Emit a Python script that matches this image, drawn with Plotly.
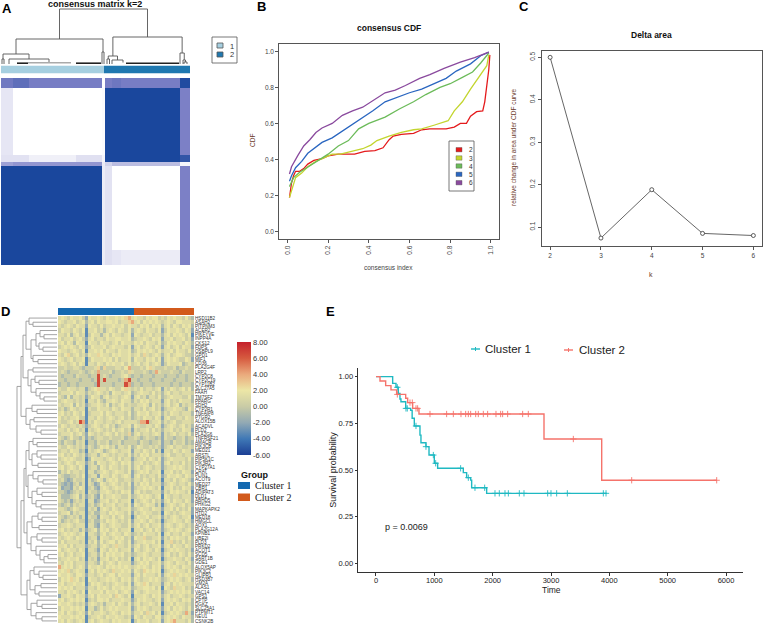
import plotly.graph_objects as go

W, H = 763, 625
FONT = "Liberation Sans"

# ---------- Panel A data
A_X_EDGES = [0, 12, 28, 75, 101, 104, 111, 120, 179, 189]
A_Y_EDGES = [0, 10, 77, 84, 88, 172, 187]
A_MATRIX = [
    [.65, .72, .62, .62, 0, .62, .66, .62, .97],
    [.13, 0, 0, 0, .02, 1, 1, 1, .6],
    [.15, .15, .08, .16, .05, 1, 1, 1, .9],
    [.45, .5, .5, .5, .1, .22, .32, .32, .05],
    [1, 1, 1, 1, .1, .15, 0, 0, .6],
    [1, 1, 1, 1, .1, .16, .13, .1, .6],
]
A_GROUP_EDGES = [0, 103, 189]
A_GROUPS = [[1, 2]]
A_TREE = [55,
          [25,
           [10, [5, 1, 3],
            [5, 8, ("flat", 2, 16, 100, 48)]],
           [12, 101, 103]],
          [27,
           [8, [5, 106, 108.5],
            [4, 111, ("flat", 1.5, 114, 178, 122)]],
           [11, 179, [4, 182, [2, 183, 186]]]]]
A_DENSE_GREY = [(27, 70)]
A_DENSE_BLACK = [(16, 27), (75, 100), (125, 178)]

# ---------- Panel B data
CDF = {
    "2": ([.01, .02, .03, .04, .06, .08, .1, .13, .17, .2, .25, .33, .38, .43, .47, .5, .52, .56, .62, .66, .7, .78, .82, .85, .88, .9, .93, .96, .97, .98, .99, .995],
          [.19, .27, .31, .335, .335, .35, .375, .395, .405, .42, .43, .43, .445, .45, .465, .51, .53, .54, .545, .565, .57, .57, .58, .6, .6, .64, .665, .67, .72, .8, .9, .98]),
    "3": ([.01, .02, .04, .07, .1, .14, .18, .22, .26, .32, .37, .41, .44, .5, .56, .62, .66, .72, .79, .82, .86, .9, .93, .96, .98, .99],
          [.19, .23, .3, .325, .36, .39, .41, .43, .43, .445, .46, .48, .505, .53, .55, .565, .57, .59, .615, .67, .72, .79, .84, .89, .92, .98]),
    "4": ([.01, .03, .06, .1, .15, .2, .25, .3, .35, .4, .48, .55, .62, .68, .75, .8, .86, .91, .95, .99],
          [.25, .3, .33, .36, .395, .43, .475, .505, .57, .6, .635, .68, .72, .76, .8, .82, .855, .885, .935, .99]),
    "5": ([.01, .02, .04, .07, .1, .17, .22, .3, .38, .42, .48, .55, .6, .66, .72, .78, .83, .9, .95, .99],
          [.28, .31, .355, .39, .435, .495, .52, .58, .64, .67, .72, .75, .77, .79, .82, .85, .89, .93, .975, .995]),
    "6": ([.01, .02, .05, .08, .11, .14, .17, .22, .27, .32, .37, .42, .48, .53, .58, .65, .7, .77, .85, .92, .99],
          [.32, .36, .42, .475, .51, .55, .575, .6, .645, .67, .69, .725, .77, .785, .81, .85, .87, .905, .94, .965, .995]),
}
CDF_COLORS = {"2": "#e41a1c", "3": "#c3d52f", "4": "#6cbb5a", "5": "#2a66c0", "6": "#8a4a9e"}

# ---------- Panel C data
DELTA_K = [2, 3, 4, 5, 6]
DELTA_V = [.5, .074, .188, .085, .08]

# ---------- Panel D data
GENES = ["HSD11B2", "ASAH2", "PITPNM3", "ACER2", "PIKFYVE", "INPP4A", "CKS12", "FDPS", "OSBPL9", "GPD1",
         "MIF1", "CD36", "PLA2G4F", "LRP2", "CYP2C8", "CYP2C19", "CYP11B2", "SLC27A5", "FAAH", "TM7SF2",
         "PPARG", "SDH2", "CYP2R1", "TNFAIP8", "PTGR2", "ALOX15B", "ACADVL", "PLD2", "PLA2G6", "TNFRSF21",
         "AMACR", "PIK3CB", "MED21", "ARSTL", "PIP5K1C", "PIK3R2", "CYP27A1", "CRAT", "PLIN1", "ACOT9",
         "MED27", "CBR1", "ADIPAT3", "DLD1", "ABHD5", "PHKG2", "MAPKAPK2", "HTD2", "MED18", "HMGCL",
         "AOX1", "PLA2G12A", "KPNB1", "UBE2I", "PLD3", "PRKD2", "ACOT1", "SCD5", "SART1B", "GDE1",
         "ALOX5AP", "PIK3C2", "GLIPR1", "HSD3B7", "GM2A", "ALAS1", "VAC14", "GPS1", "CPTP", "DGKZ",
         "SLC25A1", "PTPMT1", "NEU1", "CSNK2B"]
LEVELS = [-5, -3.2, -2.0, -0.9, 0.2, 1.2, 1.9, 2.6, 4, 6.5]
HEAT_ROWS = [
    "56546 55642 65565 46556 56785 65546 56645 46565 54643",
    "65455 64563 56465 56656 45578 56465 65654 56546 65554",
    "54565 46552 65546 45565 56465 54656 46563 56465 46563",
    "46554 65461 55645 35654 65463 56546 55462 46556 54652",
    "55463 56451 46553 56465 54562 65455 64553 56465 65461",
    "64556 45642 56455 46556 65563 45565 46562 55645 56452",
    "56465 36551 65546 55456 46554 65646 55463 46565 54653",
    "45656 54652 46555 64565 55462 56456 54652 56456 46552",
    "65545 65461 55656 46554 65563 46565 65464 55646 55463",
    "54674 56453 65576 55465 65564 56475 45653 56456 65443",
    "65456 45561 46555 65646 45563 65546 56462 56565 44652",
    "56545 64651 55465 46565 56464 56456 45652 46555 63454",
    "44544 55434 44573 74445 54684 44546 75444 54453 44544",
    "45434 44543 45484 44534 45475 44454 34854 44544 35444",
    "43444 35444 34494 54344 45643 44344 43444 34443 44344",
    "44344 44344 43494 94444 34894 43444 34443 44434 44344",
    "34434 43444 44394 44434 44983 44344 43444 44344 34443",
    "54465 54552 45675 54654 46754 54645 54562 54654 56463",
    "45556 46553 54565 45365 54563 45655 46453 56455 45554",
    "54363 55452 46553 56455 45652 56453 55463 45655 54463",
    "45655 45451 55464 35565 46553 54656 45552 56454 65553",
    "54556 36452 45565 46354 56454 45565 36453 56456 35454",
    "45346 54551 54465 55465 46553 55464 56452 45565 54364",
    "56454 65461 45556 46545 55463 46556 45563 54655 45553",
    "64545 56441 55465 45654 56453 45465 54652 56445 54654",
    "54456 45981 54655 45545 64555 54889 45563 54564 45554",
    "46545 54542 45654 56453 45563 65445 54652 45654 56453",
    "55464 56451 54565 45464 56452 54556 46453 55645 46552",
    "45556 45642 65454 56546 45473 56455 45652 54564 55463",
    "54346 44352 43455 44544 45344 54345 44342 54434 45344",
    "43544 35451 44354 45344 53444 43544 34452 44354 45343",
    "54465 45452 54346 56453 55463 46544 54542 45645 54454",
    "45546 55341 54565 34565 45562 55465 46351 55465 46552",
    "56454 65452 45535 65454 55463 54656 45553 56445 54554",
    "45656 54451 36555 45654 64552 45564 65462 45655 55463",
    "54565 46552 45365 54565 46563 55645 45652 56455 46453",
    "56456 54651 45536 54655 45463 56456 54552 45565 65453",
    "35464 55451 55345 65456 55462 45656 45561 55645 46552",
    "54334 45461 45526 55465 45652 56454 55462 46556 54653",
    "45323 54451 53465 35656 44553 55465 46451 55464 56542",
    "43232 45351 54236 54565 45462 54656 45552 45654 55463",
    "52332 54651 45325 65456 55452 45565 65461 55645 46552",
    "44323 45451 54435 56545 46562 56454 45552 54656 55461",
    "53334 56352 45326 45565 54463 45656 54561 65455 45552",
    "54342 45451 55235 56456 45561 54565 46452 56465 54652",
    "43453 54551 45346 45564 55462 65456 55351 45654 56453",
    "55434 65441 54525 65465 45563 45655 46552 55646 45462",
    "45563 54551 45335 54656 55462 54565 54451 65454 56552",
    "54345 45351 54426 55464 56451 46556 45562 54565 45561",
    "53454 56441 45335 46565 45462 55654 65451 45565 54652",
    "45565 45551 55326 54565 54463 56456 45562 56545 65453",
    "56454 55352 45636 56456 45561 55645 64652 45656 54563",
    "45656 54561 55435 64565 54653 45465 55461 56455 46552",
    "54565 46551 45526 55456 56452 65574 45562 54656 55463",
    "46455 55451 54636 45664 65462 45565 56461 55745 46453",
    "55646 45552 45535 65457 55463 56456 45562 56465 54653",
    "64565 54651 55426 54656 45562 65456 54651 45656 55452",
    "56456 45561 45536 46565 56453 45565 45552 56454 65463",
    "45565 56451 54525 56456 45461 56465 65461 45565 54652",
    "54656 45552 55436 45654 65552 45656 45563 56546 55463",
    "85656 45652 65565 46565 65654 56565 46562 56565 46553",
    "56574 56551 56465 65475 56563 65476 56561 45656 55463",
    "65565 46652 55456 45664 65552 56465 55462 56575 65654",
    "46567 56451 65545 56565 46563 65455 65653 45656 54563",
    "56455 65561 46565 45456 55462 56576 45552 56465 65554",
    "65656 45552 55465 65465 56563 45566 56461 65475 56453",
    "55465 65461 65556 46556 45652 65456 55562 45656 56563",
    "25565 46552 56465 55647 65461 55565 46563 56455 65454",
    "56456 56561 45466 56455 56552 46565 54562 56565 46563",
    "65565 45452 56545 35564 65463 56455 65461 55646 55453",
    "46556 56561 55346 45656 55562 46565 45552 56465 65463",
    "56465 45652 64556 54565 46563 55647 56461 45656 54852",
    "65556 56561 45565 46556 55452 65465 54663 56565 46553",
    "56465 45651 56456 55465 65561 46556 45562 56785 55463",
]

D_TREE = [40,
          [36,
           [34,
            [31, [28, 0, [24, 1, 2]],
             [26, [21, [17, 3, [13, 4, 5]], [18, 6, [14, 7, 8]]], [24, 9, [19, 10, 11]]]],
            [29, [24, 12, 13], [26, [22, 14, [18, 15, 16]], [21, 17, [17, 18, [13, 19, 20]]]]]],
           [31, [25, 21, [20, 22, 23]], [27, [23, 24, 25], [21, 26, [16, 27, 28]]]]],
          [36,
           [33,
            [31,
             [28, [24, 29, [20, 30, 31]], [25, [20, 32, [16, 33, 34]], [19, 35, 36]]],
             [29, [24, 37, [19, 38, [14, 39, 40]]], [25, [20, 41, [15, 42, 43]], [21, 44, [16, 45, 46]]]]],
            [30,
             [25, [19, 47, [15, 48, 49]], [18, 50, 51]],
             [26, [20, 52, [15, 53, 54]], [21, 55, [17, 56, [13, [9, 57, 58], 59]]]]]],
           [30,
            [27, [23, 60, [18, 61, [14, 62, 63]]], [22, [16, 64, 65], [18, 66, 67]]],
            [26, [20, 68, [15, 69, 70]], [21, 71, [15, 72, 73]]]]]]

# ---------- Panel E data
C1_T = [0, 286, 343, 383, 411, 428, 509, 594, 620, 657, 754, 771, 857, 909, 1000, 1057, 1497, 1554, 1623, 1640, 1897, 3954]
C1_S = [1, .964, .943, .91, .88, .866, .83, .82, .777, .736, .687, .646, .625, .58, .536, .509, .486, .459, .446, .405, .375, .375]
C1_CENS = [366, 514, 537, 686, 857, 983, 1023, 1451, 1583, 1697, 1863, 2040, 2114, 2211, 2269, 2457, 2537, 2943, 3000, 3097, 3280, 3897, 3943]
C2_T = [0, 69, 166, 257, 354, 509, 543, 629, 737, 2880, 3869, 5840]
C2_S = [1, .977, .952, .929, .905, .884, .861, .83, .80, .666, .445, .445]
C2_CENS = [366, 583, 623, 686, 714, 926, 1211, 1326, 1457, 1537, 1583, 1623, 1709, 1754, 1840, 1914, 2057, 2137, 2171, 2257, 2514, 2611, 3383, 4383, 5840]


def dx(a, b):
    return [a / W, b / W]


def dy(a, b):
    return [1 - b / H, 1 - a / H]


def tree_lines(node, xs, hs):
    """Return the (position, height) of a tree node and extend the segment lists."""
    if isinstance(node, (int, float)):
        return node, 0
    if isinstance(node, tuple):
        _, h, _, _, pos = node
        return pos, h
    h, left, right = node
    p1, h1 = tree_lines(left, xs, hs)
    p2, h2 = tree_lines(right, xs, hs)
    xs += [p1, p1, p2, p2, None]
    hs += [h1, h, h, h2, None]
    return (p1 + p2) / 2, h


def km_at(times, surv, t):
    val = surv[0]
    for ti, si in zip(times, surv):
        if ti <= t:
            val = si
    return val


fig = go.Figure()

# Panel A
ax, ah = [], []
tree_lines(A_TREE, ax, ah)
fig.add_trace(go.Scatter(x=ax, y=ah, mode="lines", line=dict(color="#555555", width=0.9),
                         xaxis="x", yaxis="y", showlegend=False, hoverinfo="skip"))
for spans, col, hv in ((A_DENSE_GREY, "#aaaaaa", 1.2), (A_DENSE_BLACK, "#222222", 0.8)):
    fx, fy = [], []
    for s in spans:
        fx += [s[0], s[1], None]
        fy += [hv, hv, None]
    fig.add_trace(go.Scatter(x=fx, y=fy, mode="lines", line=dict(color=col, width=1.6),
                             xaxis="x", yaxis="y", showlegend=False, hoverinfo="skip"))
fig.add_trace(go.Heatmap(x=A_GROUP_EDGES, y=[0, 1], z=A_GROUPS, zmin=1, zmax=2, showscale=False,
                         colorscale=[[0, "#a6cfe0"], [1, "#1f78b0"]], xaxis="x2", yaxis="y2", hoverinfo="skip"))
fig.add_trace(go.Heatmap(x=A_X_EDGES, y=A_Y_EDGES, z=A_MATRIX, zmin=0, zmax=1, showscale=False,
                         colorscale=[[0, "#ffffff"], [.15, "#e2e2f2"], [.6, "#7c80c6"], [1, "#1a479d"]],
                         xaxis="x3", yaxis="y3", hoverinfo="skip"))

# Panel B
for k, (xv, yv) in CDF.items():
    fig.add_trace(go.Scatter(x=xv, y=yv, mode="lines", line=dict(color=CDF_COLORS[k], width=1.3),
                             xaxis="x4", yaxis="y4", showlegend=False, name=k))

# Panel C
fig.add_trace(go.Scatter(x=DELTA_K, y=DELTA_V, mode="lines+markers", line=dict(color="#555555", width=0.9),
                         marker=dict(symbol="circle", size=4, color="white", line=dict(color="#333333", width=0.8)),
                         xaxis="x5", yaxis="y5", showlegend=False))

# Panel D
dlx, dly = [], []
tree_lines(D_TREE, dly, dlx)
fig.add_trace(go.Scatter(x=dlx, y=dly, mode="lines", line=dict(color="#9a9a9a", width=0.9),
                         xaxis="x6", yaxis="y6", showlegend=False, hoverinfo="skip"))
fig.add_trace(go.Heatmap(x=[-0.5, 24.5, 44.5], y=[0, 1], z=[[1, 2]], zmin=1, zmax=2, showscale=False,
                         colorscale=[[0, "#1469b0"], [1, "#d25a1c"]], xaxis="x7", yaxis="y7", hoverinfo="skip"))
heat = [[LEVELS[int(c)] for c in r.replace(" ", "")] for r in HEAT_ROWS]
CB_TICKS = [8, 6, 4, 2, 0, -2, -4, -6]
fig.add_trace(go.Heatmap(
    z=heat, y=GENES, zmin=-6, zmax=8, xaxis="x8", yaxis="y8", hoverinfo="skip",
    colorscale=[[0, "#1c3f94"], [2 / 14, "#3f78b6"], [4 / 14, "#92a9b4"], [6 / 14, "#c9cba6"],
                [8 / 14, "#ece6a6"], [10 / 14, "#eaa97c"], [12 / 14, "#d65a3f"], [1, "#c5202b"]],
    colorbar=dict(x=237 / W, xanchor="left", y=1 - 398.5 / H, yanchor="middle", len=113, lenmode="pixels",
                  thickness=14, xpad=0, ypad=0, outlinewidth=0, ticks="", tickvals=CB_TICKS,
                  ticktext=[f"{v:.2f}" for v in CB_TICKS], tickfont=dict(size=7.5, family=FONT, color="#333333")),
))

# Panel E
TEAL, SALMON = "#1fb9c2", "#f5736b"
for nm, col, t, s, cens in (("Cluster 1", TEAL, C1_T, C1_S, C1_CENS), ("Cluster 2", SALMON, C2_T, C2_S, C2_CENS)):
    fig.add_trace(go.Scatter(x=t, y=s, mode="lines", line=dict(color=col, width=1.4, shape="hv"),
                             xaxis="x9", yaxis="y9", showlegend=False, name=nm))
    fig.add_trace(go.Scatter(x=cens, y=[km_at(t, s, c) for c in cens], mode="markers",
                             marker=dict(symbol="cross-thin", size=4.5, line=dict(color=col, width=0.9)),
                             xaxis="x9", yaxis="y9", showlegend=False, name=nm))

HIDE = dict(visible=False, showgrid=False, zeroline=False)
layout = dict(
    width=W, height=H, autosize=False, margin=dict(l=0, r=0, t=0, b=0),
    paper_bgcolor="white", plot_bgcolor="white", font=dict(family=FONT, color="#333333"),
    xaxis=dict(HIDE, domain=dx(1, 190), range=[0, 189], anchor="y"),
    yaxis=dict(HIDE, domain=dy(8, 64), range=[0, 56], anchor="x"),
    xaxis2=dict(HIDE, domain=dx(1, 190), range=[0, 189], anchor="y2"),
    yaxis2=dict(HIDE, domain=dy(65.5, 73.5), range=[0, 1], anchor="x2"),
    xaxis3=dict(HIDE, domain=dx(1, 190), range=[0, 189], anchor="y3"),
    yaxis3=dict(HIDE, domain=dy(78, 265), range=[187, 0], anchor="x3"),
    xaxis6=dict(HIDE, domain=dx(16, 57), range=[41, 0], anchor="y6"),
    yaxis6=dict(HIDE, domain=dy(316, 623), range=[73.5, -0.5], anchor="x6"),
    xaxis7=dict(HIDE, domain=dx(58, 194), range=[-0.5, 44.5], anchor="y7"),
    yaxis7=dict(HIDE, domain=dy(308, 315), range=[0, 1], anchor="x7"),
    xaxis8=dict(HIDE, domain=dx(58, 194), range=[-0.5, 44.5], anchor="y8"),
    yaxis8=dict(domain=dy(316, 623), autorange="reversed", anchor="x8", side="right", showgrid=False,
                zeroline=False, showline=False, ticks="", tickmode="array", tickvals=GENES, ticktext=GENES,
                tickfont=dict(size=4.6, family=FONT, color="#333333"), automargin=False),
    showlegend=False,
)

BOX = dict(showline=True, mirror=True, linecolor="#555555", linewidth=1, showgrid=False, zeroline=False,
           ticks="outside", ticklen=3, tickwidth=0.8, tickcolor="#555555",
           tickfont=dict(size=6.5, family=FONT, color="#444444"))
layout["xaxis4"] = dict(BOX, domain=dx(279.3, 499), range=[-.04, 1.04], anchor="y4", tickvals=[0, .2, .4, .6, .8, 1],
                        ticktext=["0.0", "0.2", "0.4", "0.6", "0.8", "1.0"], tickangle=-90)
layout["yaxis4"] = dict(BOX, domain=dy(44, 239), range=[-.04, 1.04], anchor="x4", tickvals=[0, .2, .4, .6, .8, 1],
                        ticktext=["0.0", "0.2", "0.4", "0.6", "0.8", "1.0"])
layout["xaxis5"] = dict(BOX, domain=dx(542, 762), range=[1.84, 6.17], anchor="y5", tickvals=DELTA_K)
layout["yaxis5"] = dict(BOX, domain=dy(50.7, 245.7), range=[.056, .5156], anchor="x5", tickvals=[.1, .2, .3, .4, .5],
                        tickangle=-90)
EAX = dict(showline=True, linecolor="#333333", linewidth=1.2, showgrid=False, zeroline=False, ticks="outside",
           ticklen=2.5, tickwidth=0.8, tickcolor="#333333", tickfont=dict(size=7.5, family=FONT, color="#222222"))
layout["xaxis9"] = dict(EAX, domain=dx(358.3, 743), range=[-303, 6291], anchor="y9", ticklabelstandoff=-2,
                        tickvals=[0, 1000, 2000, 3000, 4000, 5000, 6000])
layout["yaxis9"] = dict(EAX, domain=dy(367.7, 572.3), range=[-.048, 1.048], anchor="x9",
                        tickvals=[0, .25, .5, .75, 1], ticktext=["0.00", "0.25", "0.50", "0.75", "1.00"])

ann = []


def text(x, y, s, size=8, color="#333333", bold=False, anchor="center", family=FONT, angle=0):
    ann.append(dict(x=x / W, y=1 - y / H, xref="paper", yref="paper", text=f"<b>{s}</b>" if bold else s,
                    showarrow=False, xanchor=anchor, yanchor="middle", textangle=angle,
                    font=dict(size=size, color=color, family=family)))


for s, x, y in (("A", 7, 8), ("B", 261, 7), ("C", 524, 7), ("D", 5, 311), ("E", 330, 311)):
    text(x, y, s, size=13, color="#000000", bold=True)
text(95, 4.5, "consensus matrix k=2", size=9, color="#111111", bold=True)
text(389, 28, "consensus CDF", size=8.5, color="#111111", bold=True)
text(651, 34.5, "Delta area", size=8.5, color="#111111", bold=True)
text(389, 267, "consensus index", size=6.5, color="#444444")
text(252, 141, "CDF", size=6.5, color="#6b3a2a", angle=-90)
text(651, 274, "k", size=7, color="#6b3a2a")
text(514, 148, "relative change in area under CDF curve", size=6.5, color="#6b3a2a", angle=-90)
text(551, 589.5, "Time", size=8.5, color="#222222")
text(332.7, 470, "Survival probability", size=9, color="#222222", angle=-90)
text(383, 526.5, "p = 0.0069", size=9, color="#222222", anchor="left")
text(232, 46, "1", size=7.5)
text(232, 55, "2", size=7.5)
for k, yy in zip(CDF, (149.7, 158, 166, 174.3, 182.7)):
    text(467, yy, k, size=6.5, anchor="left")
text(239, 475, "Group", size=9, color="#111111", bold=True, anchor="left")
text(253, 485.5, "Cluster 1", size=10, color="#222222", anchor="left", family="Liberation Serif")
text(253, 497, "Cluster 2", size=10, color="#222222", anchor="left", family="Liberation Serif")
text(483, 349, "Cluster 1", size=11.5, color="#222222", anchor="left")
text(577, 350, "Cluster 2", size=11.5, color="#222222", anchor="left")

shapes = []


def rect(x0, y0, x1, y1, fill="rgba(0,0,0,0)", line="#555555", lw=0.8):
    shapes.append(dict(type="rect", xref="paper", yref="paper", x0=x0 / W, x1=x1 / W, y0=1 - y0 / H, y1=1 - y1 / H,
                       fillcolor=fill, line=dict(color=line, width=lw)))


def seg(x0, y0, x1, y1, col, lw):
    shapes.append(dict(type="line", xref="paper", yref="paper", x0=x0 / W, x1=x1 / W, y0=1 - y0 / H, y1=1 - y1 / H,
                       line=dict(color=col, width=lw)))


rect(212, 37, 237, 63)
rect(217, 43, 223, 48, "#a6cfe0")
rect(217, 52, 223, 57, "#1f78b0")
rect(449, 141, 474, 191)
for k, yy in zip(CDF, (149.7, 158, 166, 174.3, 182.7)):
    rect(456, yy - 2.2, 462, yy + 2.2, CDF_COLORS[k], "#555555", 0.4)
rect(238, 482, 250, 489, "#1469b0", "#1469b0", 0)
rect(238, 493.5, 250, 501, "#d25a1c", "#d25a1c", 0)
seg(471, 349, 480, 349, TEAL, 1.4)
seg(475.5, 347, 475.5, 351, TEAL, 1)
seg(564, 350, 573, 350, SALMON, 1.4)
seg(568.5, 348, 568.5, 352, SALMON, 1)

layout["annotations"] = ann
layout["shapes"] = shapes
fig.update_layout(**layout)
fig.write_html("out.html", config={"displayModeBar": False},
               post_script="document.body.style.margin='0';document.documentElement.style.overflow='hidden';")
